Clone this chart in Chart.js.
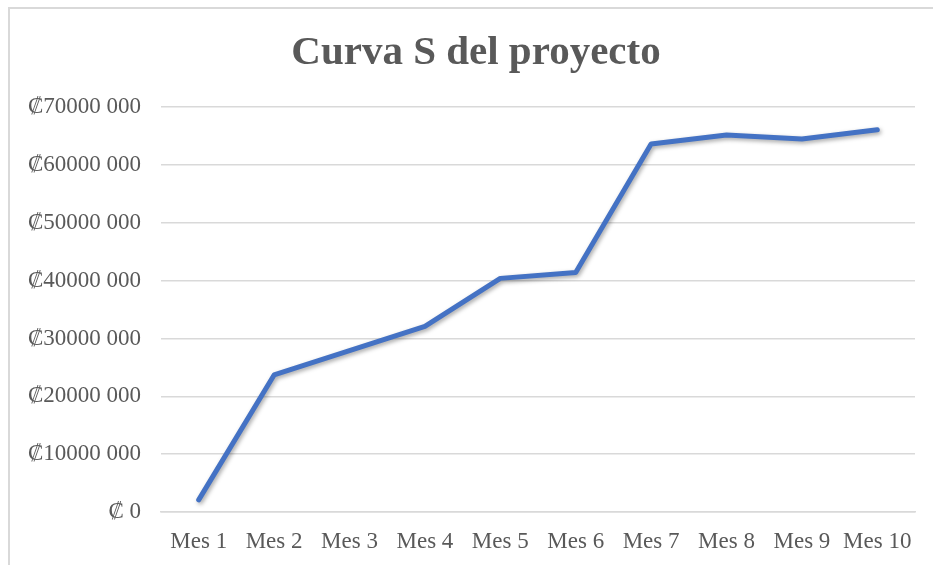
<!DOCTYPE html>
<html>
<head>
<meta charset="utf-8">
<script src="https://cdn.jsdelivr.net/npm/chart.js@4"></script>
<style>
  html, body { margin: 0; padding: 0; background: #fff; }
  #wrap { position: relative; width: 933px; height: 565px; overflow: hidden; }
  #frame { position: absolute; left: 8px; top: 7px; width: 940px; height: 570px;
           border-left: 2px solid #d9d9d9; border-top: 2px solid #d9d9d9; box-sizing: border-box; }
  canvas { position: absolute; left: 0; top: 0; }
</style>
</head>
<body>
<div id="wrap">
  <div id="frame"></div>
  <canvas id="c" width="933" height="565"></canvas>
</div>
<script>
const chartTitle = 'Curva S del proyecto';
const categories = ['Mes 1','Mes 2','Mes 3','Mes 4','Mes 5','Mes 6','Mes 7','Mes 8','Mes 9','Mes 10'];
const costValues = [2100000, 23700000, 27900000, 32100000, 40400000, 41400000, 63650000, 65200000, 64500000, 66100000];
const yTickValues = [0, 10000000, 20000000, 30000000, 40000000, 50000000, 60000000, 70000000];
const yTickLabels = ['₡ 0','₡10000 000','₡20000 000','₡30000 000','₡40000 000','₡50000 000','₡60000 000','₡70000 000'];

const FONT = "'Liberation Serif', 'Times New Roman', 'DejaVu Serif', serif";
const TXT = '#595959';
const GRID = '#d9d9d9';

const shadowPlugin = {
  id: 'lineShadow',
  afterLayout(chart) {
    // centre the title over the framed area, as in the reference
    if (chart.titleBlock) { chart.titleBlock.left = 37; }
  },
  beforeDatasetDraw(chart) {
    const ctx = chart.ctx;
    ctx.save();
    ctx.shadowColor = 'rgba(0,0,0,0.35)';
    ctx.shadowBlur = 4;
    ctx.shadowOffsetX = 1.5;
    ctx.shadowOffsetY = 2;
  },
  afterDatasetDraw(chart) {
    chart.ctx.restore();
  }
};

new Chart(document.getElementById('c'), {
  type: 'line',
  data: {
    labels: categories,
    datasets: [{
      data: costValues,
      borderColor: '#4472C4',
      borderWidth: 5,
      borderCapStyle: 'round',
      borderJoinStyle: 'round',
      pointRadius: 0,
      tension: 0,
      fill: false
    }]
  },
  options: {
    responsive: false,
    animation: false,
    devicePixelRatio: 1,
    layout: { padding: { left: 0, right: 18, top: 0, bottom: 0 } },
    plugins: {
      legend: { display: false },
      tooltip: { enabled: false },
      title: {
        display: true,
        text: chartTitle,
        color: TXT,
        font: { family: FONT, size: 41, weight: 'bold' },
        padding: { top: 29, bottom: 29 }
      }
    },
    scales: {
      x: {
        offset: true,
        afterFit(scale) { scale.height = 53; },
        grid: { display: false, drawTicks: false },
        border: { display: true, color: GRID, width: 1.5 },
        ticks: {
          color: TXT,
          font: { family: FONT, size: 23 },
          padding: 16,
          maxRotation: 0,
          autoSkip: false
        }
      },
      y: {
        min: 0,
        max: 70000000,
        afterBuildTicks(scale) {
          scale.ticks = yTickValues.map(v => ({ value: v }));
        },
        afterFit(scale) { scale.width = 161; },
        grid: { color: GRID, lineWidth: 1.5, drawTicks: false },
        border: { display: false },
        ticks: {
          color: TXT,
          font: { family: FONT, size: 23 },
          padding: 20,
          callback(value) {
            const i = yTickValues.indexOf(value);
            return i >= 0 ? yTickLabels[i] : '';
          }
        }
      }
    }
  },
  plugins: [shadowPlugin]
});
</script>
</body>
</html>
